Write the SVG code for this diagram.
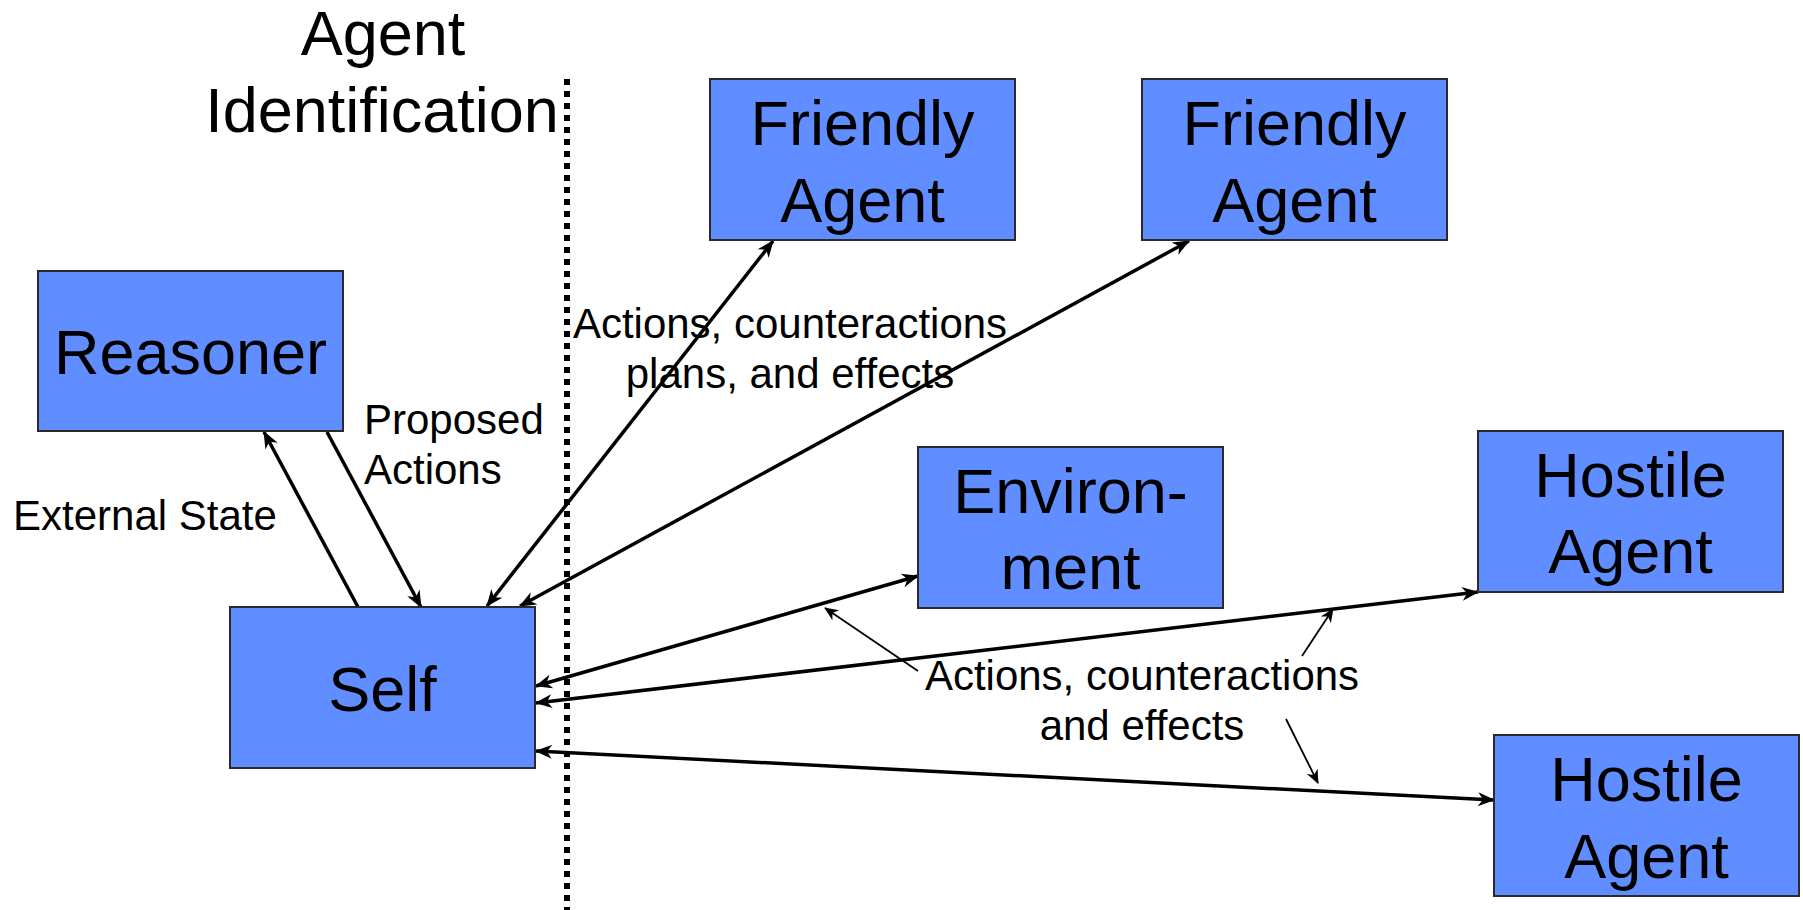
<svg xmlns="http://www.w3.org/2000/svg" width="1803" height="910" viewBox="0 0 1803 910">
  <style>
    .box { fill: #608DFF; stroke: #2a2a2a; stroke-width: 2; }
    .big { font-family: "Liberation Sans", Arial, sans-serif; font-size: 63px; fill: #000; text-anchor: middle; }
    .small { font-family: "Liberation Sans", Arial, sans-serif; font-size: 42px; fill: #000; }
    .link { fill: none; stroke: #000; stroke-width: 3.5; }
    .pointer { fill: none; stroke: #000; stroke-width: 1.8; }
  </style>
  <defs>
    <marker id="head" markerUnits="userSpaceOnUse" viewBox="-17 -8 19 16" refX="0" refY="0" markerWidth="19" markerHeight="16" orient="auto-start-reverse">
      <path d="M1,0 L-16,-7 L-11,0 L-16,7 Z" fill="#000"/>
    </marker>
    <marker id="headSmall" markerUnits="userSpaceOnUse" viewBox="-15 -7 17 14" refX="0" refY="0" markerWidth="17" markerHeight="14" orient="auto-start-reverse">
      <path d="M1,0 L-13,-6 L-9,0 L-13,6 Z" fill="#000"/>
    </marker>
  </defs>

  <rect width="1803" height="910" fill="#fff"/>

  <!-- boundary between the agent and the outside world -->
  <g id="boundary">
    <line x1="567" y1="79" x2="567" y2="910" stroke="#000" stroke-width="6" stroke-dasharray="6 6"/>
    <text class="big" x="383" y="55">Agent</text>
    <text class="big" x="382" y="132">Identification</text>
  </g>

  <!-- connectors -->
  <g id="connectors">
    <path class="link" d="M358,607 L264,432" marker-end="url(#head)"/>
    <path class="link" d="M327,432 L421,607" marker-end="url(#head)"/>
    <path class="link" d="M487,606 L773,241" marker-start="url(#head)" marker-end="url(#head)"/>
    <path class="link" d="M520,606 L1189,241" marker-start="url(#head)" marker-end="url(#head)"/>
    <path class="link" d="M536,686 L918,576" marker-start="url(#head)" marker-end="url(#head)"/>
    <path class="link" d="M536,703 L1478,592" marker-start="url(#head)" marker-end="url(#head)"/>
    <path class="link" d="M536,751 L1494,800" marker-start="url(#head)" marker-end="url(#head)"/>
    <path class="pointer" d="M918,671 L825,608" marker-end="url(#headSmall)"/>
    <path class="pointer" d="M1302,656 L1333,609" marker-end="url(#headSmall)"/>
    <path class="pointer" d="M1286,719 L1318,783" marker-end="url(#headSmall)"/>
  </g>

  <!-- connector labels -->
  <g id="labels">
    <text class="small" x="13" y="530">External State</text>
    <text class="small" x="364" y="434">Proposed</text>
    <text class="small" x="364" y="484">Actions</text>
    <text class="small" x="790" y="338" text-anchor="middle">Actions, counteractions</text>
    <text class="small" x="790" y="388" text-anchor="middle">plans, and effects</text>
    <text class="small" x="1142" y="690" text-anchor="middle">Actions, counteractions</text>
    <text class="small" x="1142" y="740" text-anchor="middle">and effects</text>
  </g>

  <g id="reasoner">
    <rect class="box" x="38" y="271" width="305" height="160"/>
    <text class="big" x="190.5" y="374">Reasoner</text>
  </g>

  <g id="self">
    <rect class="box" x="230" y="607" width="305" height="161"/>
    <text class="big" x="382.5" y="711">Self</text>
  </g>

  <g id="friendly-agent-1">
    <rect class="box" x="710" y="79" width="305" height="161"/>
    <text class="big" x="862.5" y="145">Friendly</text>
    <text class="big" x="862.5" y="222">Agent</text>
  </g>

  <g id="friendly-agent-2">
    <rect class="box" x="1142" y="79" width="305" height="161"/>
    <text class="big" x="1294.5" y="145">Friendly</text>
    <text class="big" x="1294.5" y="222">Agent</text>
  </g>

  <g id="environment">
    <rect class="box" x="918" y="447" width="305" height="161"/>
    <text class="big" x="1070.5" y="513">Environ-</text>
    <text class="big" x="1070.5" y="589">ment</text>
  </g>

  <g id="hostile-agent-1">
    <rect class="box" x="1478" y="431" width="305" height="161"/>
    <text class="big" x="1630.5" y="497">Hostile</text>
    <text class="big" x="1630.5" y="573">Agent</text>
  </g>

  <g id="hostile-agent-2">
    <rect class="box" x="1494" y="735" width="305" height="161"/>
    <text class="big" x="1646.5" y="801">Hostile</text>
    <text class="big" x="1646.5" y="878">Agent</text>
  </g>
</svg>
